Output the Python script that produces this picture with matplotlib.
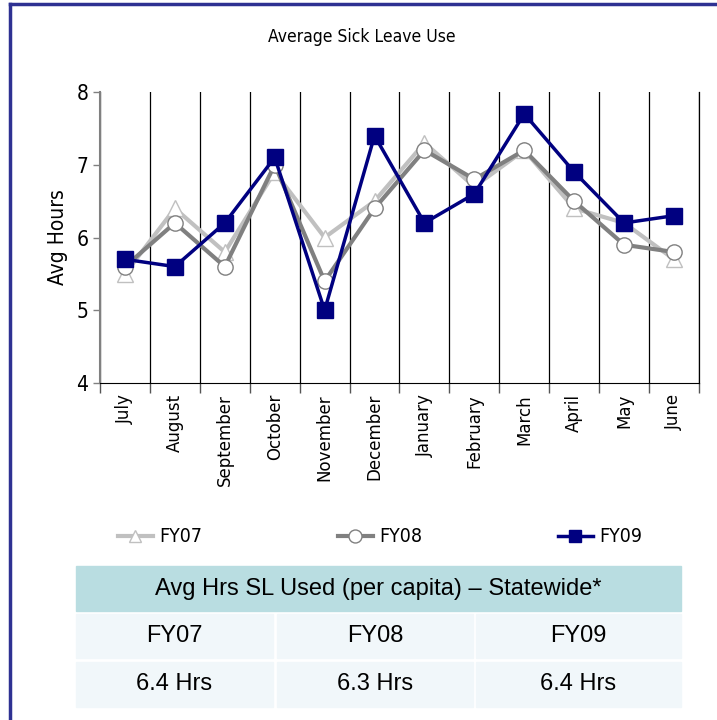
import numpy as np
import matplotlib
matplotlib.use('Agg')
import matplotlib.pyplot as plt
from matplotlib.patches import Rectangle
from matplotlib.lines import Line2D
from matplotlib import font_manager

months = ['July', 'August', 'September', 'October', 'November', 'December',
          'January', 'February', 'March', 'April', 'May', 'June']
fy07 = [5.5, 6.4, 5.8, 6.9, 6.0, 6.5, 7.3, 6.7, 7.2, 6.4, 6.2, 5.7]
fy08 = [5.6, 6.2, 5.6, 7.0, 5.4, 6.4, 7.2, 6.8, 7.2, 6.5, 5.9, 5.8]
fy09 = [5.7, 5.6, 6.2, 7.1, 5.0, 7.4, 6.2, 6.6, 7.7, 6.9, 6.2, 6.3]

table_title = 'Avg Hrs SL Used (per capita) – Statewide*'
table_years = ['FY07', 'FY08', 'FY09']
table_hours = ['6.4 Hrs', '6.3 Hrs', '6.4 Hrs']

W, H = 717, 720
cond = dict(family='DejaVu Sans', stretch='condensed')

fig = plt.figure(figsize=(W / 100, H / 100), dpi=100)
ax = fig.add_axes([100 / W, 1 - 383 / H, 599 / W, 291 / H])

x = np.arange(len(months))
l07, = ax.plot(x, fy07, color='#c0c0c0', lw=3, marker='^', ms=11, mfc='white',
               mec='#c0c0c0', mew=1, zorder=3)
l08, = ax.plot(x, fy08, color='#808080', lw=3, marker='o', ms=11, mfc='white',
               mec='#808080', mew=1, zorder=4)
l09, = ax.plot(x, fy09, color='#000080', lw=2.5, marker='s', ms=11, mfc='#000080',
               mec='#000080', zorder=5)

ax.set_xlim(-0.5, len(months) - 0.5)
ax.set_ylim(4, 8)
ax.set_yticks([4, 5, 6, 7, 8])
ax.set_xticks(x)
ax.set_xticklabels(months, rotation=90, fontsize=12, family='DejaVu Sans')
ax.tick_params(axis='x', length=0, pad=8)
ax.set_xticks(np.arange(-0.5, len(months)), minor=True)
ax.tick_params(axis='x', which='minor', length=7, width=1, color='#555555')
ax.grid(axis='x', which='minor', color='black', lw=0.9)
ax.tick_params(axis='y', length=5, width=1, color='#808080', labelsize=15)
for lbl in ax.get_yticklabels():
    lbl.set_fontproperties(font_manager.FontProperties(size=15, **cond))
ax.spines['top'].set_visible(False)
ax.spines['right'].set_color('black')
ax.spines['right'].set_linewidth(0.9)
ax.spines['left'].set_color('#808080')
ax.spines['left'].set_linewidth(1.5)
ax.spines['bottom'].set_color('black')
ax.set_ylabel('Avg Hours', fontsize=15, labelpad=6, **cond)

fig.text(362 / W, 1 - 37 / H, 'Average Sick Leave Use', ha='center', va='center',
         fontsize=12.5, **cond)

# legend, one entry per column
for h, lab, lx in zip([l07, l08, l09], ['FY07', 'FY08', 'FY09'], [110, 330, 550]):
    fig.legend([h], [lab], loc='center left', bbox_to_anchor=(lx / W, 1 - 537 / H),
               frameon=False, handlelength=1.8, handletextpad=0.35,
               borderaxespad=0, prop=font_manager.FontProperties(size=14, **cond),
               markerscale=0.85)

# table
cols = [(76, 273), (277, 473), (476, 681)]
fig.patches.append(Rectangle((76 / W, 1 - 611 / H), 605 / W, 45 / H,
                             transform=fig.transFigure, color='#b9dde1', zorder=0))
fig.text(378 / W, 1 - 589 / H, table_title, ha='center', va='center', fontsize=17,
         family='Liberation Sans')
for row, (y0, y1) in zip([table_years, table_hours], [(614, 658), (662, 707)]):
    for txt, (x0, x1) in zip(row, cols):
        fig.patches.append(Rectangle((x0 / W, 1 - y1 / H), (x1 - x0) / W, (y1 - y0) / H,
                                     transform=fig.transFigure, color='#f1f7fa', zorder=0))
        fig.text((x0 + x1) / 2 / W, 1 - (y0 + y1) / 2 / H, txt, ha='center',
                 va='center', fontsize=17, family='Liberation Sans')

# frame
fig.add_artist(Line2D([10 / W, 10 / W], [0, 1 - 4 / H], color='#2e3192', lw=2.5,
                      transform=fig.transFigure))
fig.add_artist(Line2D([10 / W, 1], [1 - 4 / H, 1 - 4 / H], color='#2e3192', lw=2.5,
                      transform=fig.transFigure))

fig.savefig('out.png', dpi=100)
